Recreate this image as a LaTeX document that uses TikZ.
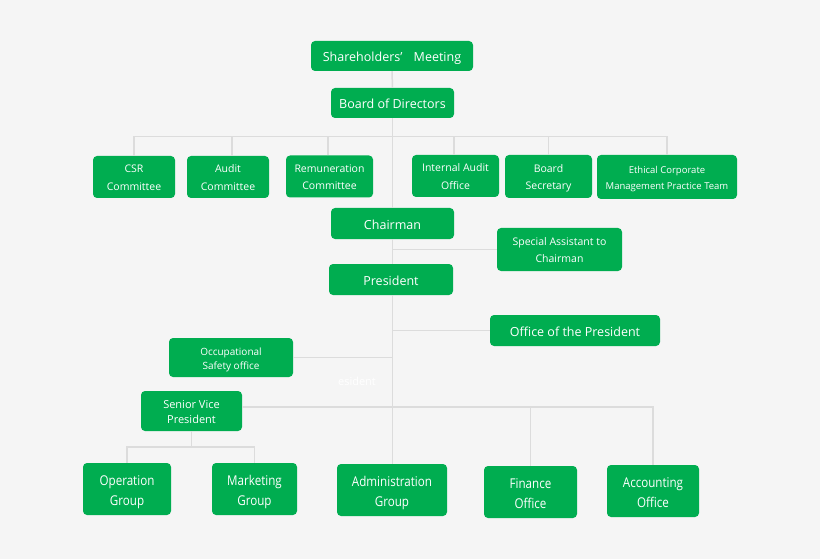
\documentclass[tikz,border=0pt]{standalone}
\usepackage{fontspec}
\setmainfont{Open Sans}
\newfontfamily\condfont[FakeStretch=0.86]{Open Sans}
\definecolor{boxgreen}{RGB}{0,173,80}
\definecolor{bgcol}{RGB}{245,245,245}
\definecolor{linecol}{RGB}{220,220,220}
\newcommand{\tb}[1]{\leavevmode\vrule width0pt height1.2em depth0pt#1\vrule width0pt height0pt depth0.3em\relax}
\begin{document}
\begin{tikzpicture}[x=1pt,y=-1pt,
  box/.style={fill=boxgreen,rounded corners=4pt,text=white,align=center,inner sep=0pt,anchor=center},
  conn/.style={draw=linecol,line width=1.5pt},
  big/.style={font=\fontsize{12.5}{16}\selectfont},
  mid/.style={font=\fontsize{10.5}{17.5}\selectfont},
  bottom/.style={font=\condfont\fontsize{13.5}{20}\selectfont}]
\fill[bgcol] (0,0) rectangle (820,559);
\useasboundingbox (0,0) rectangle (820,559);
% nodes
\node[box,big,minimum width=162pt,minimum height=30pt] (sh) at (392,56) {\tb{Shareholders’\hspace{0.9em}Meeting}};
\node[box,big,minimum width=123pt,minimum height=30pt] (bod) at (392.5,103) {\tb{Board of Directors}};
\node[box,mid,minimum width=82pt,minimum height=42pt] (csr) at (134,177) {\tb{CSR\\Committee}};
\node[box,mid,minimum width=82pt,minimum height=42pt] (aud) at (228,177) {\tb{Audit\\Committee}};
\node[box,mid,minimum width=87pt,minimum height=42pt] (rem) at (329.5,176.5) {\tb{Remuneration\\Committee}};
\node[box,mid,minimum width=87pt,minimum height=42pt] (ia) at (455.5,176) {\tb{Internal Audit\\Office}};
\node[box,mid,minimum width=87pt,minimum height=43pt] (bs) at (548.5,176.5) {\tb{Board\\Secretary}};
\node[box,font=\fontsize{9.5}{15.5}\selectfont,minimum width=140pt,minimum height=44pt] (eth) at (667,177) {\tb{Ethical Corporate\\Management Practice Team}};
\node[box,big,minimum width=123pt,minimum height=31pt] (chair) at (392.5,223.5) {\tb{Chairman}};
\node[box,font=\fontsize{10.5}{17}\selectfont,minimum width=125pt,minimum height=43pt] (sa) at (559.5,249.5) {\tb{Special Assistant to\\Chairman}};
\node[box,big,minimum width=124pt,minimum height=31pt] (pres) at (391,279.5) {\tb{President}};
\node[box,big,minimum width=170pt,minimum height=31pt] (op) at (575,330.5) {\tb{Office of the President}};
\node[box,font=\fontsize{10}{14}\selectfont,minimum width=124pt,minimum height=39pt] (occ) at (231,357.5) {\tb{Occupational\\Safety office}};
\node[box,font=\fontsize{11}{15}\selectfont,minimum width=101pt,minimum height=40pt] (svp) at (191.5,411) {\tb{Senior Vice\\President}};
\node[box,bottom,minimum width=88pt,minimum height=52pt] (opg) at (127,489) {\tb{Operation\\Group}};
\node[box,bottom,minimum width=85pt,minimum height=52pt] (mkt) at (254.5,489) {\tb{Marketing\\Group}};
\node[box,bottom,minimum width=110pt,minimum height=52pt] (adm) at (392,490) {\tb{Administration\\Group}};
\node[box,bottom,minimum width=93pt,minimum height=52pt] (fin) at (530.5,492) {\tb{Finance\\Office}};
\node[box,bottom,minimum width=92pt,minimum height=52pt] (acc) at (653,491) {\tb{Accounting\\Office}};
\node[text=white,font=\fontsize{11}{13}\selectfont,inner sep=0pt] (faint) at (357,381) {esident};
% connectors
\coordinate (bus) at (392.5,136.5);
\coordinate (svpr) at ([yshift=4pt]svp.east);
\coordinate (svpb) at (191.5,447);
\draw[conn] (sh.south) -- (bod.north);
\draw[conn] (bod.south) -- (chair.north);
\draw[conn] (csr.north) |- (bus) -| (eth.north);
\draw[conn] ([xshift=4pt]aud.north) -- ([xshift=4pt]aud.north |- bus);
\draw[conn] ([xshift=-1.5pt]rem.north) -- ([xshift=-1.5pt]rem.north |- bus);
\draw[conn] ([xshift=-1.5pt]ia.north) -- ([xshift=-1.5pt]ia.north |- bus);
\draw[conn] (bs.north) -- (bs.north |- bus);
\draw[conn] (chair.south) -- (chair.south |- pres.north);
\draw[conn] (sa.west) -- (sa.west -| chair.south);
\draw[conn] (pres.south -| chair.south) -- (adm.north -| chair.south);
\draw[conn] (op.west) -- (op.west -| chair.south);
\draw[conn] (occ.east) -- (occ.east -| chair.south);
\draw[conn] (svpr) -| (acc.north);
\draw[conn] (fin.north) -- (fin.north |- svpr);
\draw[conn] (svp.south) -- (svpb);
\draw[conn] (opg.north) |- (svpb) -| (mkt.north);
\end{tikzpicture}
\end{document}
